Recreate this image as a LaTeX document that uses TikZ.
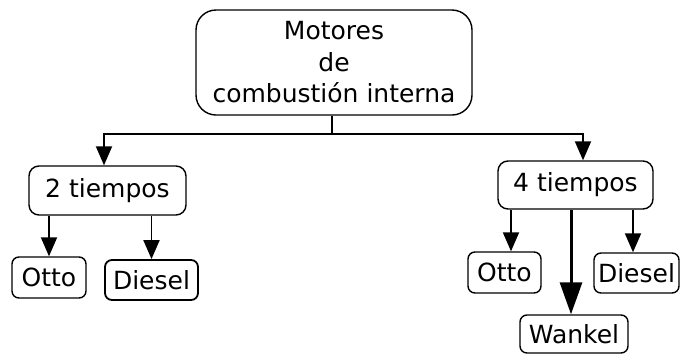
\documentclass[tikz,border=0pt]{standalone}
\usepackage{fontspec}
\setmainfont{DejaVu Sans}
\usetikzlibrary{arrows.meta}
\begin{document}
\begin{tikzpicture}[x=1pt,y=-1pt,
 box/.style={draw, line width=1.4pt, rounded corners=7pt, inner sep=0pt, font=\fontsize{25}{31.5}\selectfont, align=center},
 con/.style={line width=1.9pt},
 arr/.style={con, -{Triangle[length=19pt,width=16pt]}},
 bigarr/.style={line width=3pt, -{Triangle[length=32pt,width=22pt]}}]
\useasboundingbox (0,0) rectangle (680,354);
\node[box, rounded corners=20pt, minimum width=276pt, minimum height=105pt] (top) at (334,62.5) {Motores\\de\\combustión interna};
\node[box, rounded corners=10pt, minimum width=157pt, minimum height=49pt] (t2) at (107.5,190.5) {2 tiempos};
\node[box, rounded corners=10pt, minimum width=155pt, minimum height=48pt] (t4) at (575.5,185) {4 tiempos};
\node[box, minimum width=74pt, minimum height=41pt] (o2) at (49,277.5) {Otto};
\node[box, line width=1.8pt, minimum width=93pt, minimum height=40pt] (d2) at (151.5,280) {Diesel};
\node[box, minimum width=73pt, minimum height=41pt] (o4) at (504.5,272.5) {Otto};
\node[box, minimum width=85pt, minimum height=40pt] (d4) at (636.5,273) {Diesel};
\node[box, minimum width=108pt, minimum height=38pt] (w4) at (574,334) {Wankel};
\coordinate (j) at (332,134);
\draw[con] (top.south -| j) -- (j);
\coordinate (c2) at ([xshift=-3.5pt]t2.north);
\coordinate (c4) at ([xshift=7.5pt]t4.north);
\draw[arr] (j) -| (c2);
\draw[arr] (j) -| (c4);
\draw[arr] (t2.south -| o2.north) -- (o2.north);
\draw[arr] (t2.south -| d2.north) -- (d2.north);
\coordinate (a1) at ([xshift=6.5pt]o4.north);
\coordinate (a2) at ([xshift=-3pt]w4.north);
\coordinate (a3) at ([xshift=-3.5pt]d4.north);
\draw[arr] (t4.south -| a1) -- (a1);
\draw[bigarr] (t4.south -| a2) -- (a2);
\draw[arr] (t4.south -| a3) -- (a3);
\end{tikzpicture}
\end{document}
